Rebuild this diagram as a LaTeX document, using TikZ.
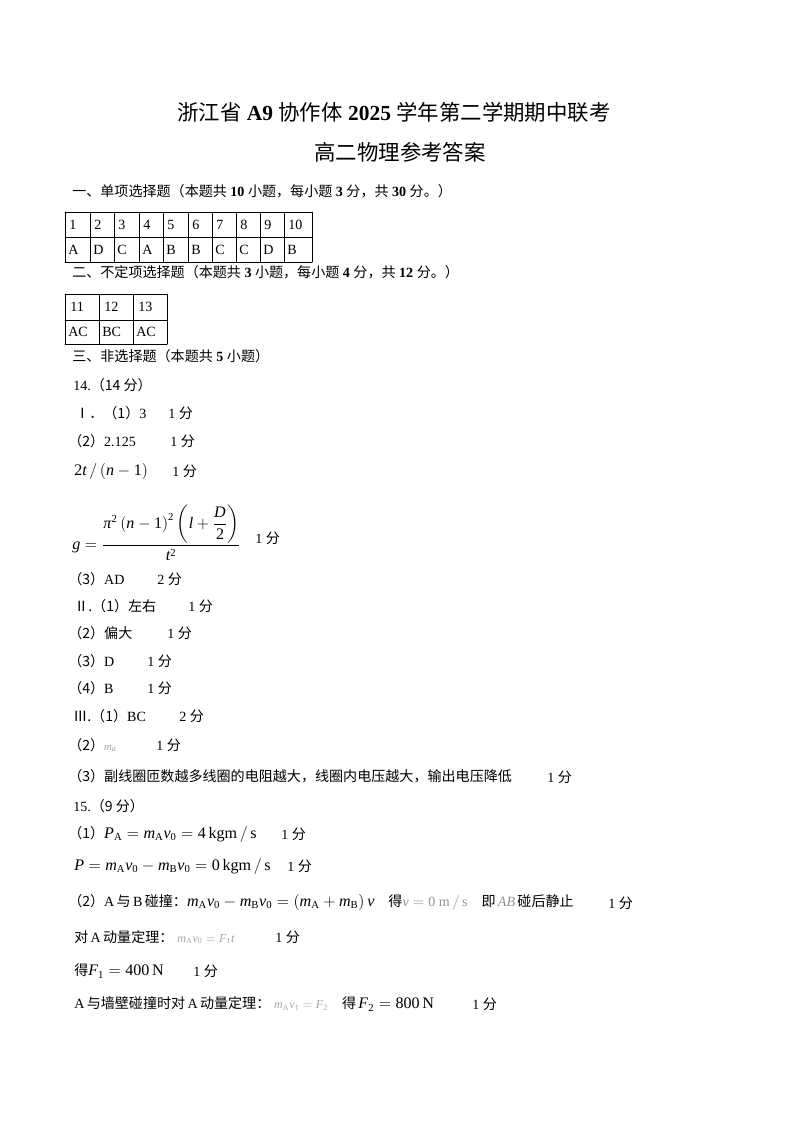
\documentclass[tikz,border=0pt]{standalone}
\usepackage{amsmath}
\usepackage{mathspec}
\setmainfont{Liberation Serif}
\setmathsfont(Digits,Latin,Greek){Liberation Serif}
\setmathrm{Liberation Serif}
\newfontfamily\cjk{Noto Sans CJK SC}
\newcommand\zh[1]{{\cjk #1}}
\usetikzlibrary{positioning}
\begin{document}
\begin{tikzpicture}[x=0.02625cm, y=-0.02625cm, line cap=round, line join=round, font=\fontsize{10.5}{12}\selectfont]
	\tikzset{txt/.style={anchor=west, inner sep=0pt}, head/.style={inner sep=0pt, font=\fontsize{16}{18}\selectfont},
		cell/.style={anchor=west, inner sep=0pt}, grid/.style={line width=0.6pt}}
	\fill[white] (0,0) rectangle (800,1132);
	\useasboundingbox (0,0) rectangle (800,1132);
	% title
	\node[head] (t1) at (394,112) {\zh{浙江省} \textbf{A9} \zh{协作体} \textbf{2025} \zh{学年第二学期期中联考}};
	\node[head] (t2) at (400,152) {\zh{高二物理参考答案}};
	% part one
	\node[txt] (s1) at (72,191) {\zh{一、单项选择题（本题共} \textbf{10} \zh{小题，每小题} \textbf{3} \zh{分，共} \textbf{30} \zh{分。）}};
	\foreach \x in {65,90,114,139,163,188,212,236,260,284,312} \draw[grid] (\x,212) -- (\x,262);
	\foreach \y in {212,237,262} \draw[grid] (65,\y) -- (312,\y);
	\foreach \x/\n/\k [count=\i] in {65/1/A,90/2/D,114/3/C,139/4/A,163/5/B,188/6/B,212/7/C,236/8/C,260/9/D,284/10/B}
	{
		\node[cell] (n\i) at ({\x+4},225) {\n};
		\node[cell] (k\i) at ({\x+3},250) {\k};
	}
	% part two
	\node[txt] (s2) at (72,272) {\zh{二、不定项选择题（本题共} \textbf{3} \zh{小题，每小题} \textbf{4} \zh{分，共} \textbf{12} \zh{分。）}};
	\foreach \x in {65,99,133,167} \draw[grid] (\x,294) -- (\x,344);
	\foreach \y in {294,320,344} \draw[grid] (65,\y) -- (167,\y);
	\foreach \x/\n/\k [count=\i] in {65/11/AC,99/12/BC,133/13/AC}
	{
		\node[cell] (m\i) at ({\x+5},307) {\n};
		\node[cell] (l\i) at ({\x+3},332) {\k};
	}
	% part three
	\node[txt] (s3) at (72,356) {\zh{三、非选择题（本题共} \textbf{5} \zh{小题）}};
	\node[txt] (q14) at (73,385) {14.\zh{（14 分）}};
	\node[txt] (a1) at (75,413) {\zh{Ⅰ．（1）}3};
	\node[txt] (a1s) at (168,413) {1 \zh{分}};
	\node[txt] (a2) at (68,441) {\zh{（2）}2.125};
	\node[txt] (a2s) at (170,441) {1 \zh{分}};
	\node[txt] (a3) at (74,471) {\fontsize{12}{14}\selectfont$2t\,/\left(n-1\right)$};
	\node[txt] (a3s) at (172,471) {1 \zh{分}};
	\node[txt] (a4) at (72,533) {\fontsize{12}{14}\selectfont$g=\dfrac{\pi^{2}\left(n-1\right)^{2}\left(l+\dfrac{D}{2}\right)}{t^{2}}$};
	\node[txt] (a4s) at (255,538) {1 \zh{分}};
	\node[txt] (a5) at (68,579) {\zh{（3）}AD};
	\node[txt] (a5s) at (157,579) {2 \zh{分}};
	\node[txt] (b1) at (74,606) {\zh{Ⅱ.（1）左右}};
	\node[txt] (b1s) at (188,606) {1 \zh{分}};
	\node[txt] (b2) at (68,633) {\zh{（2）偏大}};
	\node[txt] (b2s) at (167,633) {1 \zh{分}};
	\node[txt] (b3) at (68,661) {\zh{（3）}D};
	\node[txt] (b3s) at (147,661) {1 \zh{分}};
	\node[txt] (b4) at (68,688) {\zh{（4）}B};
	\node[txt] (b4s) at (147,688) {1 \zh{分}};
	\node[txt] (c1) at (73,716) {\zh{Ⅲ.（1）}BC};
	\node[txt] (c1s) at (179,716) {2 \zh{分}};
	\node[txt] (c2) at (68,745) {\zh{（2）}{\color{gray!75}\footnotesize$m_a$}};
	\node[txt] (c2s) at (156,745) {1 \zh{分}};
	\node[txt] (c3) at (68,776) {\zh{（3）副线圈匝数越多线圈的电阻越大，线圈内电压越大，输出电压降低}};
	\node[txt] (c3s) at (547,777) {1 \zh{分}};
	% question 15
	\node[txt] (q15) at (73,806) {15.\zh{（9 分）}};
	\node[txt] (d1) at (68,834) {\zh{（1）}\fontsize{12}{14}\selectfont$P_{\text{A}}=m_{\text{A}}v_0=4\,\text{kgm}\,/\,\text{s}$};
	\node[txt] (d1s) at (281,834) {1 \zh{分}};
	\node[txt] (d2) at (74,866) {\fontsize{12}{14}\selectfont$P=m_{\text{A}}v_0-m_{\text{B}}v_0=0\,\text{kgm}\,/\,\text{s}$};
	\node[txt] (d2s) at (287,866) {1 \zh{分}};
	\node[txt] (d3) at (68,902) {\zh{（2）}A\,\zh{与}\,B\,\zh{碰撞：}{\fontsize{12}{14}\selectfont$m_{\text{A}}v_0-m_{\text{B}}v_0=\left(m_{\text{A}}+m_{\text{B}}\right)v$}\quad\zh{得}{\color{gray!85}$v=0\ \text{m}\,/\,\text{s}$}\quad\zh{即}\,{\color{gray!85}$AB$}\,\zh{碰后静止}};
	\node[txt] (d3s) at (608,903) {1 \zh{分}};
	\node[txt] (d4) at (74,937) {\zh{对}\,A\,\zh{动量定理：}\;{\color{gray!70}\small$m_{\text{A}}v_0=F_1t$}};
	\node[txt] (d4s) at (275,937) {1 \zh{分}};
	\node[txt] (d5) at (74,971) {\zh{得}\fontsize{12}{14}\selectfont$F_1=400\,\text{N}$};
	\node[txt] (d5s) at (193,971) {1 \zh{分}};
	\node[txt] (d6) at (74,1004) {A\,\zh{与墙壁碰撞时对}\,A\,\zh{动量定理：}\;{\color{gray!70}\small$m_{\text{A}}v_1=F_2$}\quad\zh{得}\,{\fontsize{12}{14}\selectfont$F_2=800\,\text{N}$}};
	\node[txt] (d6s) at (472,1004) {1 \zh{分}};
\end{tikzpicture}
\end{document}
